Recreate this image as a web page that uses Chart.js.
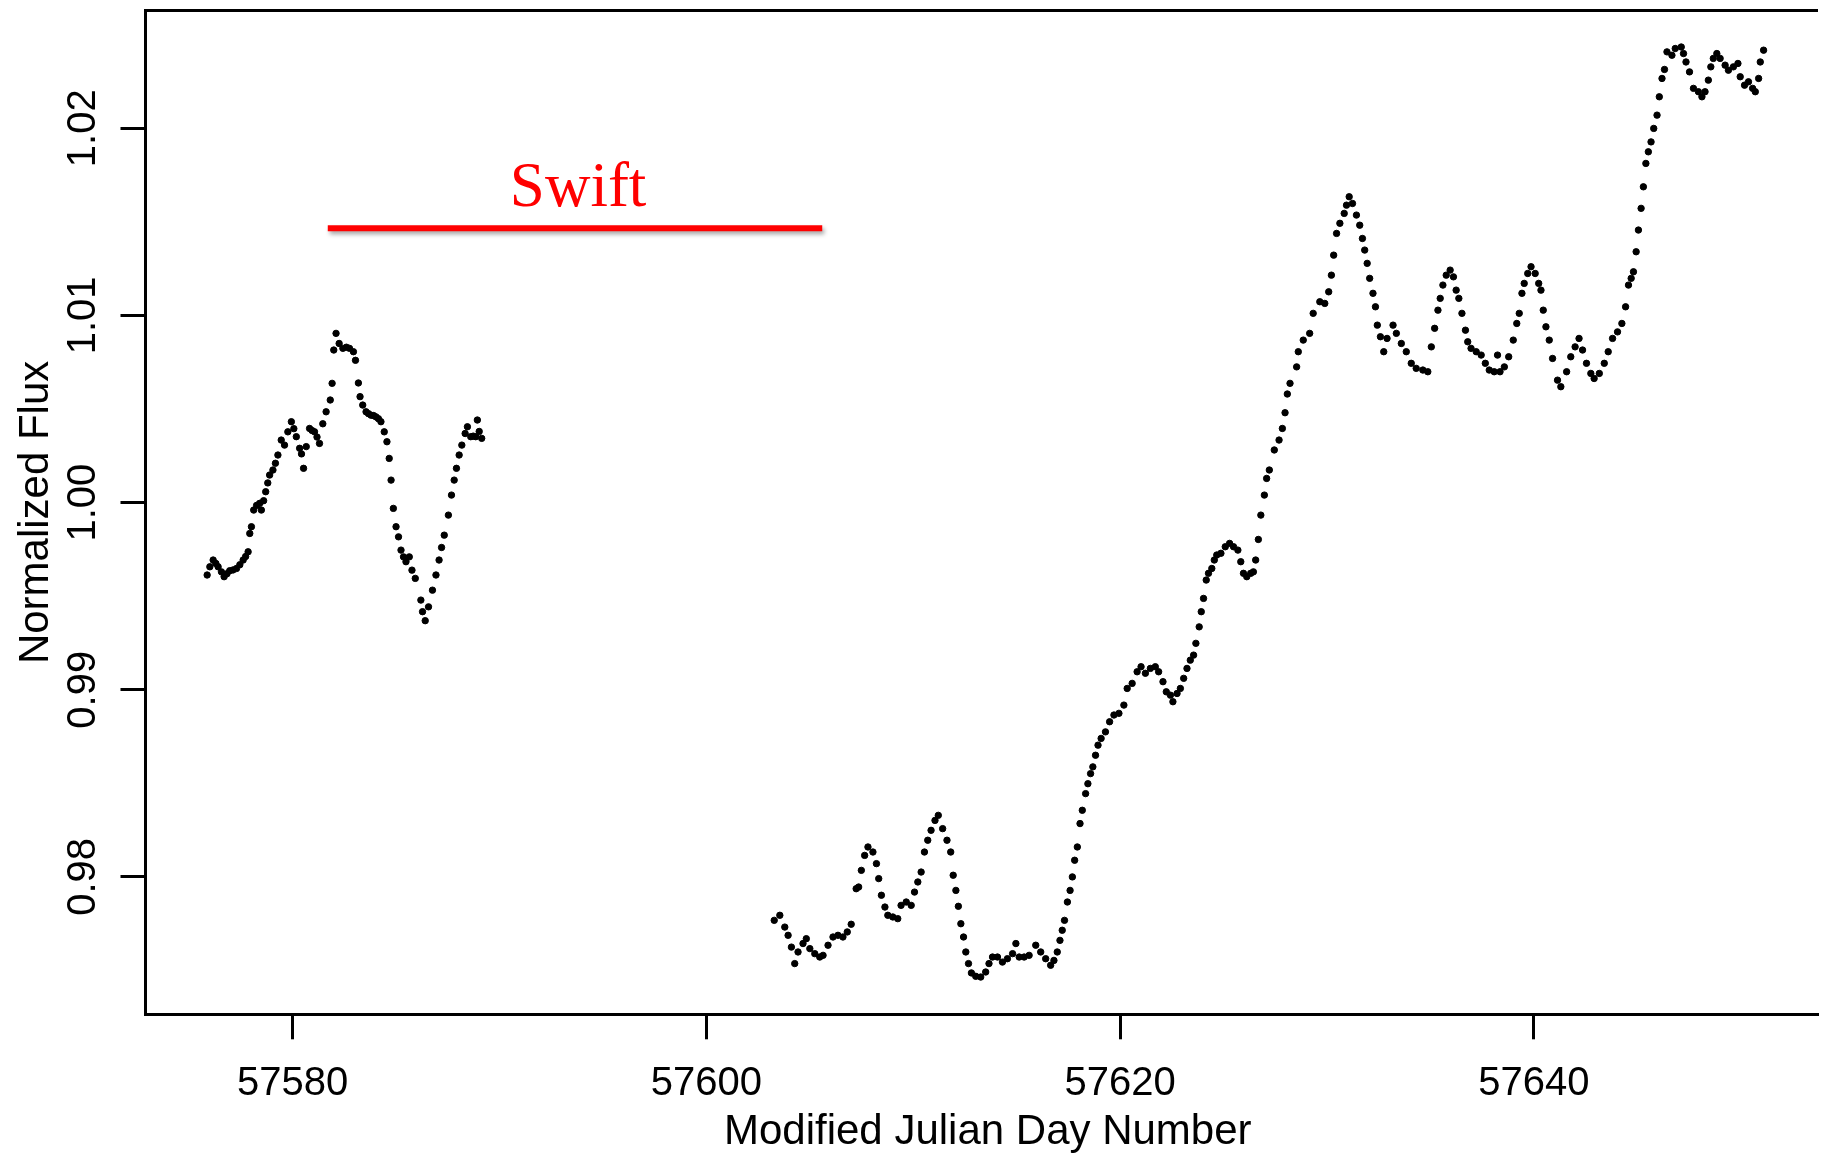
<!DOCTYPE html>
<html>
<head>
<meta charset="utf-8">
<title>Normalized Flux light curve</title>
<script src="https://cdn.jsdelivr.net/npm/chart.js@4.4.1/dist/chart.umd.min.js"></script>
<style>
  html, body { margin: 0; padding: 0; background: #fff; overflow: hidden; }
  canvas { display: block; }
</style>
</head>
<body>
<canvas id="lc" width="1823" height="1153"></canvas>
<script>
// First stretch of the light curve (before the gap)
var mjdA = [
  57575.87, 57576.00, 57576.16, 57576.29, 57576.40, 57576.56, 57576.69, 57576.83, 57576.96, 57577.12,
  57577.29, 57577.45, 57577.61, 57577.73, 57577.85, 57577.93, 57578.01, 57578.12, 57578.26, 57578.41,
  57578.49, 57578.60, 57578.70, 57578.80, 57578.89, 57579.05, 57579.17, 57579.29, 57579.45, 57579.61,
  57579.77, 57579.94, 57580.06, 57580.18, 57580.34, 57580.43, 57580.53, 57580.66, 57580.82, 57580.94,
  57581.06, 57581.18, 57581.30, 57581.46, 57581.62, 57581.82, 57581.91, 57581.99, 57582.10, 57582.25,
  57582.43, 57582.60, 57582.75, 57582.94, 57583.04, 57583.18, 57583.26, 57583.39, 57583.55, 57583.67,
  57583.79, 57583.91, 57584.03, 57584.15, 57584.27, 57584.43, 57584.56, 57584.67, 57584.76, 57584.87,
  57585.00, 57585.12, 57585.24, 57585.36, 57585.48, 57585.64, 57585.77, 57585.93, 57586.20, 57586.28,
  57586.41, 57586.57, 57586.76, 57586.93, 57587.08, 57587.20, 57587.33, 57587.53, 57587.68, 57587.81,
  57587.92, 57588.05, 57588.18, 57588.34, 57588.45, 57588.61, 57588.73, 57588.85, 57588.93, 57589.02,
  57589.14
];
var fluxA = [
  0.99613, 0.99657, 0.99693, 0.99675, 0.99657, 0.99630, 0.99604, 0.99620, 0.99636, 0.99640,
  0.99648, 0.99668, 0.99693, 0.99712, 0.99737, 0.99835, 0.99871, 0.99960, 0.99985, 0.99996,
  0.99960, 1.00010, 1.00058, 1.00105, 1.00147, 1.00174, 1.00210, 1.00254, 1.00334, 1.00307,
  1.00378, 1.00432, 1.00395, 1.00352, 1.00290, 1.00260, 1.00183, 1.00299, 1.00396, 1.00385,
  1.00378, 1.00350, 1.00316, 1.00421, 1.00485, 1.00548, 1.00637, 1.00815, 1.00904, 1.00850,
  1.00824, 1.00830, 1.00824, 1.00806, 1.00760, 1.00639, 1.00566, 1.00521, 1.00485, 1.00475,
  1.00467, 1.00465, 1.00458, 1.00448, 1.00432, 1.00378, 1.00325, 1.00236, 1.00120, 0.99969,
  0.99871, 0.99817, 0.99746, 0.99710, 0.99684, 0.99710, 0.99639, 0.99595, 0.99479, 0.99417,
  0.99369, 0.99443, 0.99532, 0.99613, 0.99693, 0.99760, 0.99826, 0.99933, 1.00040, 1.00120,
  1.00183, 1.00254, 1.00307, 1.00369, 1.00405, 1.00352, 1.00355, 1.00352, 1.00441, 1.00380,
  1.00343
];

// Second stretch (after the gap)
var mjdB = [
  57603.28, 57603.55, 57603.79, 57603.95, 57604.11, 57604.27, 57604.43, 57604.67, 57604.83, 57605.00,
  57605.24, 57605.48, 57605.64, 57605.88, 57606.12, 57606.36, 57606.60, 57606.81, 57607.00, 57607.24,
  57607.36, 57607.49, 57607.65, 57607.81, 57608.05, 57608.22, 57608.33, 57608.46, 57608.63, 57608.77,
  57609.01, 57609.25, 57609.41, 57609.66, 57609.90, 57610.06, 57610.22, 57610.38, 57610.54, 57610.70,
  57610.86, 57611.05, 57611.21, 57611.42, 57611.63, 57611.81, 57611.93, 57612.06, 57612.18, 57612.30,
  57612.43, 57612.54, 57612.67, 57612.81, 57613.02, 57613.26, 57613.50, 57613.66, 57613.83, 57614.07,
  57614.31, 57614.55, 57614.80, 57614.96, 57615.12, 57615.36, 57615.60, 57615.92, 57616.16, 57616.40,
  57616.64, 57616.80, 57616.96, 57617.09, 57617.20, 57617.31, 57617.45, 57617.58, 57617.69, 57617.80,
  57617.93, 57618.06, 57618.17, 57618.33, 57618.44, 57618.57, 57618.68, 57618.81, 57618.93, 57619.08,
  57619.29, 57619.49, 57619.70, 57619.94, 57620.18, 57620.34, 57620.58, 57620.82, 57621.01, 57621.22,
  57621.46, 57621.70, 57621.86, 57622.07, 57622.23, 57622.43, 57622.55, 57622.75, 57622.91, 57623.07,
  57623.23, 57623.39, 57623.55, 57623.66, 57623.82, 57623.92, 57624.03, 57624.16, 57624.27, 57624.43,
  57624.55, 57624.67, 57624.87, 57625.08, 57625.29, 57625.48, 57625.69, 57625.83, 57625.96, 57626.12,
  57626.31, 57626.44, 57626.55, 57626.68, 57626.80, 57626.97, 57627.08, 57627.21, 57627.45, 57627.68,
  57627.84, 57627.97, 57628.08, 57628.21, 57628.53, 57628.61, 57628.85, 57629.16, 57629.33, 57629.65,
  57629.89, 57630.08, 57630.21, 57630.32, 57630.46, 57630.62, 57630.83, 57630.94, 57631.07, 57631.23,
  57631.42, 57631.58, 57631.71, 57631.82, 57631.94, 57632.06, 57632.22, 57632.34, 57632.43, 57632.58,
  57632.74, 57632.90, 57633.19, 57633.35, 57633.59, 57633.83, 57634.07, 57634.31, 57634.63, 57634.87,
  57635.04, 57635.20, 57635.36, 57635.47, 57635.60, 57635.76, 57635.95, 57636.11, 57636.24, 57636.37,
  57636.52, 57636.69, 57636.80, 57636.96, 57637.21, 57637.45, 57637.65, 57637.84, 57638.08, 57638.24,
  57638.36, 57638.57, 57638.78, 57639.00, 57639.17, 57639.29, 57639.42, 57639.53, 57639.70, 57639.86,
  57640.06, 57640.23, 57640.34, 57640.45, 57640.58, 57640.74, 57640.90, 57641.14, 57641.30, 57641.58,
  57641.78, 57641.99, 57642.18, 57642.35, 57642.54, 57642.75, 57642.91, 57643.16, 57643.40, 57643.59,
  57643.80, 57644.04, 57644.25, 57644.43, 57644.57, 57644.70, 57644.81, 57644.94, 57645.05, 57645.18,
  57645.29, 57645.41, 57645.53, 57645.66, 57645.79, 57645.95, 57646.06, 57646.19, 57646.31, 57646.43,
  57646.67, 57646.83, 57647.12, 57647.23, 57647.35, 57647.52, 57647.71, 57647.95, 57648.12, 57648.27,
  57648.43, 57648.55, 57648.67, 57648.84, 57649.00, 57649.24, 57649.40, 57649.64, 57649.86, 57649.97,
  57650.18, 57650.37, 57650.57, 57650.70, 57650.86, 57650.94, 57651.10
];
var fluxB = [
  0.97768, 0.97795, 0.97732, 0.97688, 0.97625, 0.97537, 0.97599, 0.97644, 0.97670, 0.97617,
  0.97590, 0.97572, 0.97581, 0.97635, 0.97679, 0.97688, 0.97679, 0.97706, 0.97747, 0.97937,
  0.97946, 0.98035, 0.98115, 0.98160, 0.98133, 0.98071, 0.97991, 0.97902, 0.97839, 0.97795,
  0.97786, 0.97777, 0.97848, 0.97866, 0.97848, 0.97919, 0.97973, 0.98026, 0.98133, 0.98196,
  0.98249, 0.98302, 0.98329, 0.98258, 0.98196, 0.98133, 0.98009, 0.97928, 0.97843, 0.97750,
  0.97679, 0.97599, 0.97537, 0.97487, 0.97469, 0.97465, 0.97492, 0.97537, 0.97572, 0.97572,
  0.97545, 0.97563, 0.97590, 0.97644, 0.97572, 0.97572, 0.97581, 0.97635, 0.97599, 0.97563,
  0.97528, 0.97554, 0.97599, 0.97661, 0.97715, 0.97768, 0.97866, 0.97928, 0.98000, 0.98089,
  0.98160, 0.98285, 0.98356, 0.98445, 0.98498, 0.98552, 0.98588, 0.98650, 0.98704, 0.98740,
  0.98775, 0.98829, 0.98865, 0.98874, 0.98918, 0.99007, 0.99034, 0.99096, 0.99123, 0.99088,
  0.99114, 0.99123, 0.99096, 0.99043, 0.98989, 0.98971, 0.98936, 0.98980, 0.99007, 0.99061,
  0.99114, 0.99158, 0.99185, 0.99248, 0.99336, 0.99417, 0.99488, 0.99586, 0.99622, 0.99648,
  0.99693, 0.99720, 0.99729, 0.99764, 0.99782, 0.99764, 0.99746, 0.99684, 0.99622, 0.99604,
  0.99622, 0.99630, 0.99693, 0.99803, 0.99933, 1.00040, 1.00129, 1.00174, 1.00281, 1.00334,
  1.00396, 1.00480, 1.00580, 1.00637, 1.00725, 1.00806, 1.00868, 1.00904, 1.01011, 1.01073,
  1.01064, 1.01126, 1.01215, 1.01322, 1.01438, 1.01492, 1.01545, 1.01589, 1.01634, 1.01598,
  1.01536, 1.01482, 1.01411, 1.01349, 1.01278, 1.01198, 1.01118, 1.01046, 1.00948, 1.00886,
  1.00806, 1.00877, 1.00948, 1.00904, 1.00850, 1.00806, 1.00744, 1.00717, 1.00708, 1.00699,
  1.00832, 1.00931, 1.01028, 1.01091, 1.01162, 1.01215, 1.01242, 1.01206, 1.01135, 1.01091,
  1.01011, 1.00921, 1.00859, 1.00824, 1.00806, 1.00788, 1.00744, 1.00708, 1.00699, 1.00788,
  1.00699, 1.00725, 1.00779, 1.00868, 1.00957, 1.01011, 1.01118, 1.01171, 1.01224, 1.01260,
  1.01224, 1.01171, 1.01135, 1.01028, 1.00939, 1.00868, 1.00770, 1.00654, 1.00619, 1.00699,
  1.00779, 1.00832, 1.00877, 1.00815, 1.00744, 1.00690, 1.00663, 1.00690, 1.00744, 1.00806,
  1.00877, 1.00912, 1.00957, 1.01046, 1.01162, 1.01198, 1.01233, 1.01340, 1.01456, 1.01572,
  1.01687, 1.01812, 1.01874, 1.01927, 1.01999, 1.02070, 1.02168, 1.02266, 1.02314, 1.02408,
  1.02390, 1.02426, 1.02434, 1.02399, 1.02354, 1.02301, 1.02213, 1.02195, 1.02168, 1.02195,
  1.02257, 1.02328, 1.02373, 1.02399, 1.02373, 1.02337, 1.02310, 1.02328, 1.02346, 1.02275,
  1.02230, 1.02248, 1.02213, 1.02195, 1.02266, 1.02354, 1.02417
];

var xTicks = [57580, 57600, 57620, 57640];
var yTicks = [0.98, 0.99, 1.00, 1.01, 1.02];
var yTickLabels = ['0.98', '0.99', '1.00', '1.01', '1.02'];

// Swift coverage window
var swiftMjd = [57581.7, 57605.6];
var swiftFlux = [1.01465, 1.01465];

function toPoints(xs, ys) {
    return xs.map((t, i) => ({ x: t, y: ys[i] }));
}

// Soft shadow under the Swift bar
const barShadow = {
    id: 'barShadow',
    beforeDatasetDraw(chart, args) {
        if (args.index !== 2) return;
        const ctx = chart.ctx;
        ctx.save();
        ctx.shadowColor = 'rgba(0,0,0,0.35)';
        ctx.shadowOffsetX = 2;
        ctx.shadowOffsetY = 3;
        ctx.shadowBlur = 4;
    },
    afterDatasetDraw(chart, args) {
        if (args.index !== 2) return;
        chart.ctx.restore();
    }
};

// Frame top edge, tick labels, axis titles and the Swift label
const axisText = {
    id: 'axisText',
    afterDraw(chart) {
        const { ctx, chartArea } = chart;
        const x = chart.scales.x, y = chart.scales.y;
        ctx.save();
        ctx.strokeStyle = '#000';
        ctx.lineWidth = 3;
        ctx.beginPath();
        ctx.moveTo(chartArea.left - 1.5, chartArea.top);
        ctx.lineTo(chartArea.right, chartArea.top);
        ctx.stroke();

        ctx.fillStyle = '#000';
        ctx.font = '40px "Liberation Sans", Arial, sans-serif';
        ctx.textAlign = 'center';
        ctx.textBaseline = 'alphabetic';
        xTicks.forEach(v => ctx.fillText(String(v), x.getPixelForValue(v), 1095));
        yTicks.forEach((v, i) => {
            ctx.save();
            ctx.translate(95, y.getPixelForValue(v));
            ctx.rotate(-Math.PI / 2);
            ctx.fillText(yTickLabels[i], 0, 0);
            ctx.restore();
        });

        ctx.font = '42px "Liberation Sans", Arial, sans-serif';
        ctx.fillText('Modified Julian Day Number', x.getPixelForValue(57613.6), 1144);
        ctx.save();
        ctx.translate(48, (chartArea.top + chartArea.bottom) / 2);
        ctx.rotate(-Math.PI / 2);
        ctx.fillText('Normalized Flux', 0, 0);
        ctx.restore();

        ctx.fillStyle = '#ff0000';
        ctx.font = '63px "Liberation Serif", "Times New Roman", serif';
        ctx.fillText('Swift', x.getPixelForValue(57593.8), y.getPixelForValue(1.01584));
        ctx.restore();
    }
};

const dotStyle = {
    showLine: false,
    pointStyle: 'circle',
    pointRadius: 3.2,
    pointBorderWidth: 1,
    pointBackgroundColor: '#000',
    pointBorderColor: '#000'
};

new Chart('lc', {
    type: 'scatter',
    data: {
        datasets: [
            Object.assign({ data: toPoints(mjdA, fluxA) }, dotStyle),
            Object.assign({ data: toPoints(mjdB, fluxB) }, dotStyle),
            {
                data: toPoints(swiftMjd, swiftFlux),
                showLine: true,
                borderColor: '#ff0000',
                borderWidth: 6,
                borderCapStyle: 'butt',
                pointRadius: 0
            }
        ]
    },
    options: {
        responsive: false,
        animation: false,
        events: [],
        layout: { padding: { top: 10.5, left: 0, right: 0, bottom: 0 } },
        plugins: { legend: { display: false }, tooltip: { enabled: false } },
        scales: {
            x: {
                type: 'linear',
                min: 57572.89,
                max: 57653.73,
                afterBuildTicks: s => { s.ticks = xTicks.map(v => ({ value: v })); },
                afterFit: s => { s.height = 138.7; },
                ticks: { display: false },
                grid: { display: true, drawOnChartArea: false, drawTicks: true, tickLength: 25, tickWidth: 3, tickColor: '#000' },
                border: { display: true, width: 3, color: '#000' }
            },
            y: {
                type: 'linear',
                min: 0.97266,
                max: 1.02629,
                afterBuildTicks: s => { s.ticks = yTicks.map(v => ({ value: v })); },
                afterFit: s => { s.width = 145.5; },
                ticks: { display: false },
                grid: { display: true, drawOnChartArea: false, drawTicks: true, tickLength: 25, tickWidth: 3, tickColor: '#000' },
                border: { display: true, width: 3, color: '#000' }
            }
        }
    },
    plugins: [barShadow, axisText]
});
</script>
</body>
</html>
